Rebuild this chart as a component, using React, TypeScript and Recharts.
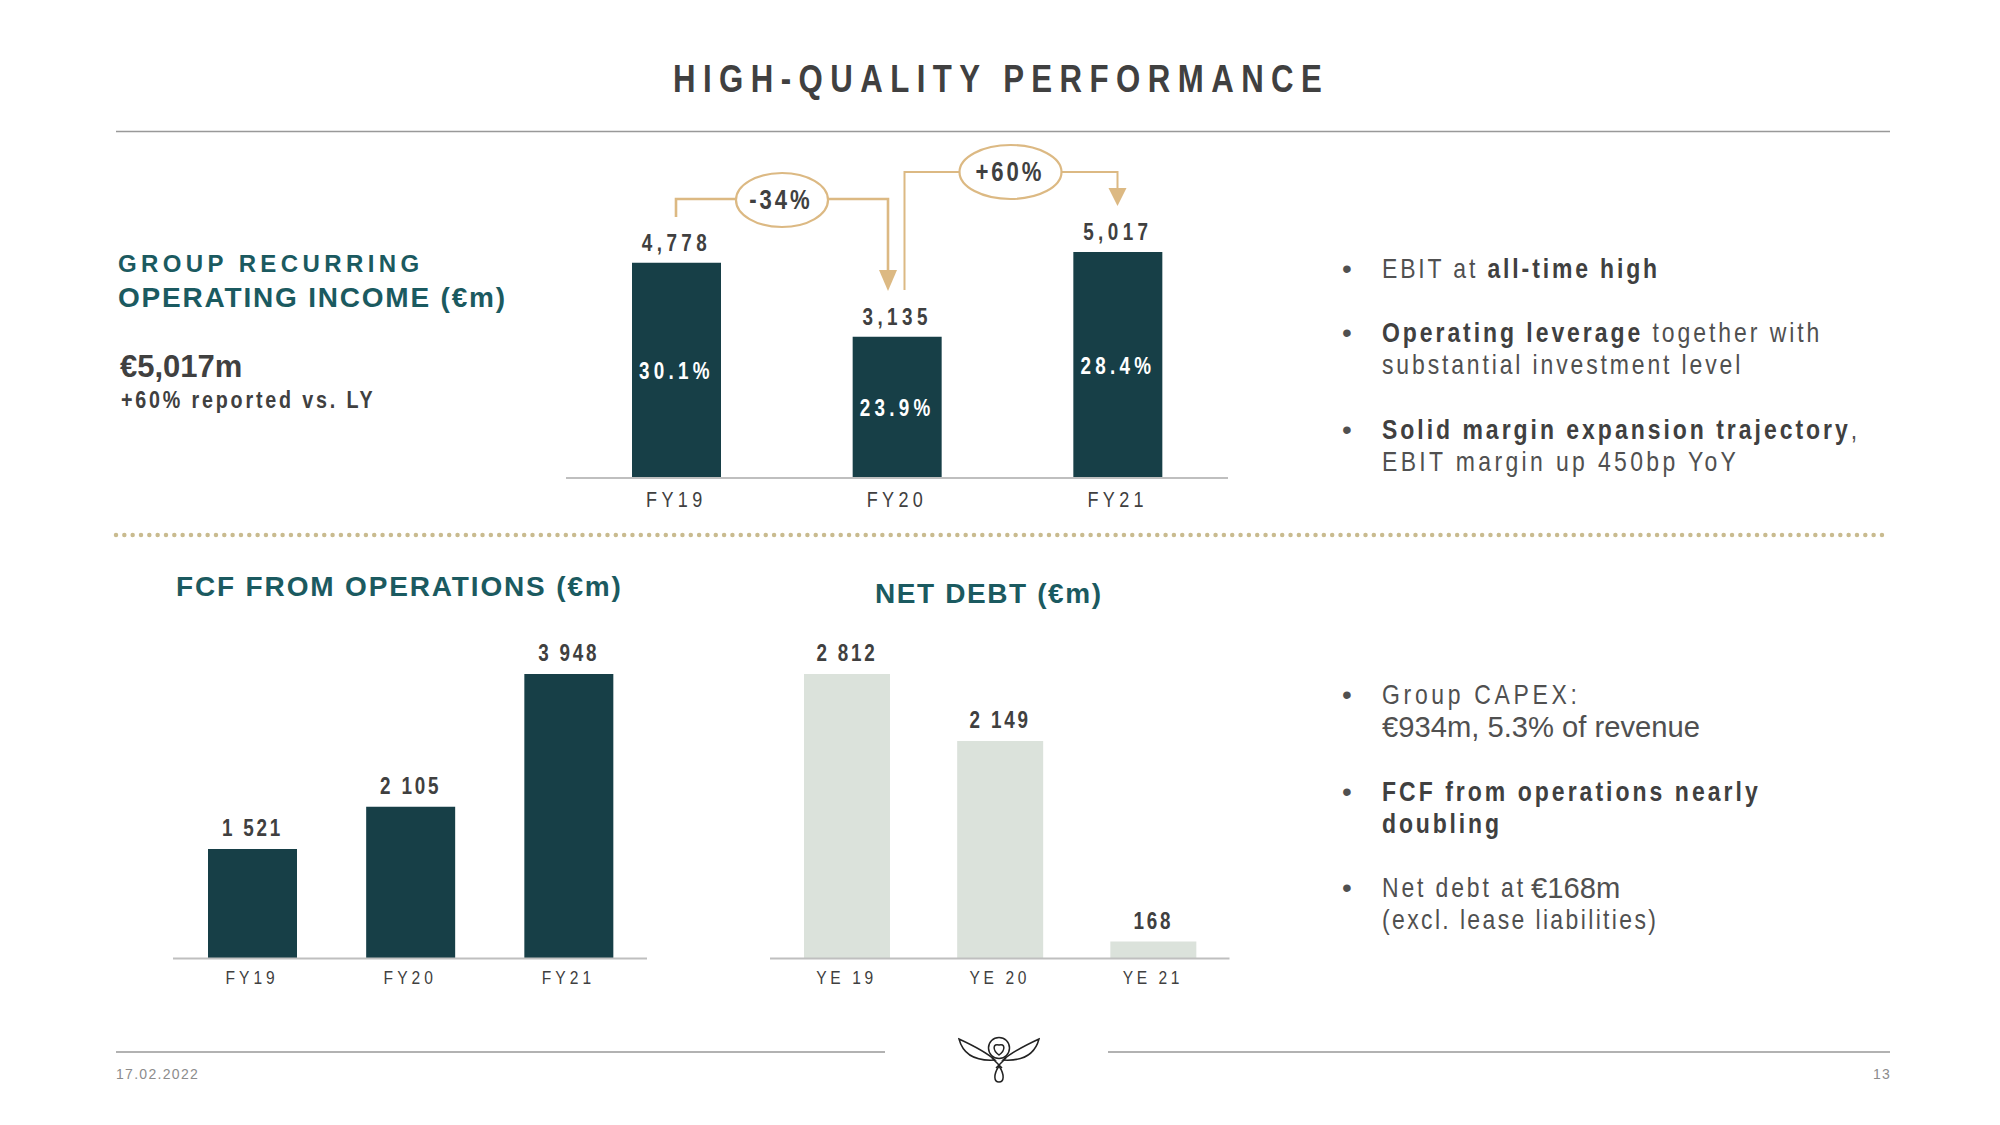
// Results slide: recurring operating income, FCF from operations and net debt.

import { BarChart, Bar, XAxis, YAxis, LabelList } from "recharts";
import type { CSSProperties, ReactNode } from "react";

const incomeYears = ["FY19", "FY20", "FY21"];
const incomeValues = [4778, 3135, 5017];
const incomeLabels = ["4,778", "3,135", "5,017"];
const incomeMargins = ["30.1%", "23.9%", "28.4%"];

const fcfYears = ["FY19", "FY20", "FY21"];
const fcfValues = [1521, 2105, 3948];
const fcfLabels = ["1 521", "2 105", "3 948"];

const debtYears = ["YE 19", "YE 20", "YE 21"];
const debtValues = [2812, 2149, 168];
const debtLabels = ["2 812", "2 149", "168"];

const DARK = "#173f47";
const PALE = "#dbe2db";
const TEAL = "#1b5a60";
const INK = "#404040";
const TAN = "#dcb983";
const ARIAL = '"Liberation Sans", sans-serif';
const SQUEEZE = 0.82; // no Arial Narrow here, so squeeze the regular face

// centred svg text, squeezed sideways
function NarrowText(props: {
  x: number;
  y: number;
  size: number;
  spacing: number;
  bold?: boolean;
  fill: string;
  children: ReactNode;
}) {
  const { x, y, size, spacing, bold, fill, children } = props;
  return (
    <text
      transform={`translate(${x},${y}) scale(${SQUEEZE},1)`}
      textAnchor="middle"
      fontFamily={ARIAL}
      fontWeight={bold ? 700 : 400}
      fontSize={size}
      letterSpacing={spacing}
      fill={fill}
    >
      {children}
    </text>
  );
}

interface ChartProps {
  left: number;
  top: number;
  width: number;
  plotHeight: number;
  categories: string[];
  values: number[];
  labels: string[];
  inner?: string[];
  fill: string;
  barSize: number;
  tickSize: number;
  tickSpacing: number;
  tickDrop: number;
  labelSpacing: number;
  labelGap: number;
}

function ValueChart(p: ChartProps) {
  const rows = p.categories.map((name, i) => ({
    name,
    value: p.values[i],
    label: p.labels[i],
    inner: p.inner ? p.inner[i] : "",
  }));
  const topSpace = 50;
  const axisSpace = 46;
  const labelAbove = (c: any) => {
    const box = c.viewBox ?? c;
    return (
      <NarrowText x={box.x + box.width / 2} y={box.y - p.labelGap} size={23} spacing={p.labelSpacing} bold fill={INK}>
        {c.value}
      </NarrowText>
    );
  };
  const labelInside = (c: any) => {
    const box = c.viewBox ?? c;
    return (
      <NarrowText x={box.x + box.width / 2} y={box.y + box.height / 2 + 9} size={23} spacing={5.2} bold fill="#ffffff">
        {c.value}
      </NarrowText>
    );
  };
  return (
    <div style={{ position: "absolute", left: p.left, top: p.top }}>
      <BarChart
        width={p.width}
        height={topSpace + p.plotHeight + axisSpace}
        data={rows}
        margin={{ top: topSpace, right: 0, bottom: 0, left: 0 }}
      >
        <YAxis hide domain={[0, Math.max(...p.values)]} />
        <XAxis
          dataKey="name"
          height={axisSpace}
          tickLine={false}
          axisLine={{ stroke: "#bfbfbf", strokeWidth: 2 }}
          tick={(t: any) => (
            <NarrowText x={t.x} y={t.y + p.tickDrop} size={p.tickSize} spacing={p.tickSpacing} fill={INK}>
              {t.payload.value}
            </NarrowText>
          )}
        />
        <Bar dataKey="value" fill={p.fill} barSize={p.barSize} isAnimationActive={false}>
          <LabelList dataKey="label" content={labelAbove} />
          {p.inner && <LabelList dataKey="inner" content={labelInside} />}
        </Bar>
      </BarChart>
    </div>
  );
}

// one slide text, placed by its vertical centre; narrow unless told otherwise
function Txt(props: { x: number; y: number; wide?: boolean; style?: CSSProperties; children: ReactNode }) {
  return (
    <div
      style={{
        position: "absolute",
        left: props.x,
        top: props.y,
        transform: `translateY(-50%)${props.wide ? "" : ` scaleX(${SQUEEZE})`}`,
        transformOrigin: "left center",
        whiteSpace: "nowrap",
        fontFamily: ARIAL,
        color: INK,
        ...props.style,
      }}
    >
      {props.children}
    </div>
  );
}

const TEXT_X = 1382;
const bulletStyle: CSSProperties = { fontSize: 28, letterSpacing: 3.5, color: "#505050" };
const boldBit: CSSProperties = { fontWeight: 700, color: INK };
const headStyle: CSSProperties = { fontSize: 28, fontWeight: 700, letterSpacing: 1.85, color: TEAL };
const footStyle: CSSProperties = { fontSize: 14, letterSpacing: 1.3, color: "#8c8c8c" };

function Bullet({ y, text, spacing }: { y: number; text: ReactNode; spacing?: number }) {
  return (
    <>
      <Txt wide x={1342} y={y} style={{ fontSize: 28, color: "#505050" }}>
        •
      </Txt>
      <Txt x={TEXT_X} y={y} style={{ ...bulletStyle, letterSpacing: spacing ?? 3.5 }}>
        {text}
      </Txt>
    </>
  );
}

function Overlay() {
  return (
    <svg width={2000} height={1125} style={{ position: "absolute", left: 0, top: 0 }}>
      <line x1={116} y1={131.5} x2={1890} y2={131.5} stroke="#999999" strokeWidth={1.6} />
      <line x1={116} y1={535} x2={1885} y2={535} stroke="#c9bb8f" strokeWidth={4.5} strokeDasharray="0 8.33" strokeLinecap="round" />
      <line x1={116} y1={1052} x2={885} y2={1052} stroke="#999999" strokeWidth={1.6} />
      <line x1={1108} y1={1052} x2={1890} y2={1052} stroke="#999999" strokeWidth={1.6} />

      {/* -34% connector */}
      <polyline points="676,217 676,199 736,199" fill="none" stroke={TAN} strokeWidth={2.6} />
      <polyline points="828,199 888,199 888,272" fill="none" stroke={TAN} strokeWidth={2.6} />
      <polygon points="879,270 897,270 888,291" fill={TAN} />
      <ellipse cx={782} cy={200} rx={46} ry={27} fill="#fff" stroke={TAN} strokeWidth={2.2} />
      <NarrowText x={781} y={209} size={27} spacing={3.6} bold fill={INK}>-34%</NarrowText>

      {/* +60% connector */}
      <polyline points="904.5,290 904.5,172 960,172" fill="none" stroke={TAN} strokeWidth={2} />
      <polyline points="1062,172 1117.5,172 1117.5,190" fill="none" stroke={TAN} strokeWidth={2} />
      <polygon points="1108.5,188 1126.5,188 1117.5,206" fill={TAN} />
      <ellipse cx={1010.5} cy={172} rx={51} ry={27} fill="#fff" stroke={TAN} strokeWidth={2.2} />
      <NarrowText x={1010} y={181} size={27} spacing={3.6} bold fill={INK}>+60%</NarrowText>

      {/* logo */}
      <g fill="none" stroke="#222222" strokeWidth={1.5}>
        <path d="M959,1039 C972,1045 986,1052 995,1060 C980,1061 964,1058 959,1039 Z" />
        <path d="M1039,1039 C1026,1045 1012,1052 1003,1060 C1018,1061 1034,1058 1039,1039 Z" />
        <circle cx={999} cy={1048} r={10.5} />
        <path d="M999,1055 C992,1050 993,1043 999,1045 C1005,1043 1006,1050 999,1055 Z" />
        <path d="M992,1058 L1002,1068 M1006,1058 L996,1068" />
        <path d="M999,1066 C993,1075 994,1082 999,1082 C1004,1082 1005,1075 999,1066 Z" />
      </g>
    </svg>
  );
}

export default function App() {
  return (
    <div style={{ position: "absolute", left: 0, top: 0, width: 2000, height: 1125, background: "#fff", overflow: "hidden" }}>
      <Overlay />
      <ValueChart
        left={566}
        top={202}
        width={662}
        plotHeight={226}
        categories={incomeYears}
        values={incomeValues}
        labels={incomeLabels}
        inner={incomeMargins}
        fill={DARK}
        barSize={89}
        tickSize={22}
        tickSpacing={5.3}
        tickDrop={21}
        labelSpacing={5.4}
        labelGap={12}
      />
      <ValueChart
        left={172.8}
        top={623.5}
        width={474.5}
        plotHeight={284.5}
        categories={fcfYears}
        values={fcfValues}
        labels={fcfLabels}
        fill={DARK}
        barSize={89}
        tickSize={19}
        tickSpacing={4.9}
        tickDrop={17}
        labelSpacing={3.4}
        labelGap={13}
      />
      <ValueChart
        left={770}
        top={623.5}
        width={459.5}
        plotHeight={284.5}
        categories={debtYears}
        values={debtValues}
        labels={debtLabels}
        fill={PALE}
        barSize={86}
        tickSize={19}
        tickSpacing={4.4}
        tickDrop={17}
        labelSpacing={3.4}
        labelGap={13}
      />

      <Txt x={673} y={79} style={{ fontSize: 38, fontWeight: 700, letterSpacing: 9.1 }}>
        HIGH-QUALITY PERFORMANCE
      </Txt>

      <Txt wide x={118} y={264} style={{ ...headStyle, fontSize: 24, letterSpacing: 4.4 }}>
        GROUP RECURRING
      </Txt>
      <Txt wide x={118} y={298} style={{ ...headStyle, letterSpacing: 1.8 }}>
        OPERATING INCOME (€m)
      </Txt>
      <Txt wide x={120} y={367} style={{ fontSize: 31, fontWeight: 700 }}>
        €5,017m
      </Txt>
      <Txt x={121} y={400} style={{ fontSize: 24, fontWeight: 700, letterSpacing: 3.45 }}>
        +60% reported vs. LY
      </Txt>

      <Txt wide x={176} y={587} style={headStyle}>
        FCF FROM OPERATIONS (€m)
      </Txt>
      <Txt wide x={875} y={594} style={{ ...headStyle, letterSpacing: 1.6 }}>
        NET DEBT (€m)
      </Txt>

      <Bullet y={269} text={<>EBIT at <span style={boldBit}>all-time high</span></>} />
      <Bullet y={333} spacing={3.6} text={<><span style={boldBit}>Operating leverage</span> together with</>} />
      <Txt x={TEXT_X} y={365} style={bulletStyle}>substantial investment level</Txt>
      <Bullet y={430} spacing={3.65} text={<><span style={boldBit}>Solid margin expansion trajectory</span>,</>} />
      <Txt x={TEXT_X} y={462} style={{ ...bulletStyle, letterSpacing: 4.1 }}>EBIT margin up 450bp YoY</Txt>

      <Bullet y={695} spacing={4.5} text="Group CAPEX:" />
      <Txt wide x={TEXT_X} y={727} style={{ fontSize: 29.2, color: "#505050" }}>€934m, 5.3% of revenue</Txt>
      <Bullet y={792} spacing={3.7} text={<span style={boldBit}>FCF from operations nearly</span>} />
      <Txt x={TEXT_X} y={824} style={{ ...bulletStyle, ...boldBit }}>doubling</Txt>
      <Bullet y={888} text="Net debt at" />
      <Txt wide x={1531} y={888} style={{ fontSize: 29.2, color: "#505050" }}>€168m</Txt>
      <Txt x={TEXT_X} y={920} style={{ ...bulletStyle, letterSpacing: 2.9 }}>(excl. lease liabilities)</Txt>

      <Txt wide x={116} y={1074} style={footStyle}>17.02.2022</Txt>
      <Txt wide x={1873} y={1074} style={footStyle}>13</Txt>
    </div>
  );
}
